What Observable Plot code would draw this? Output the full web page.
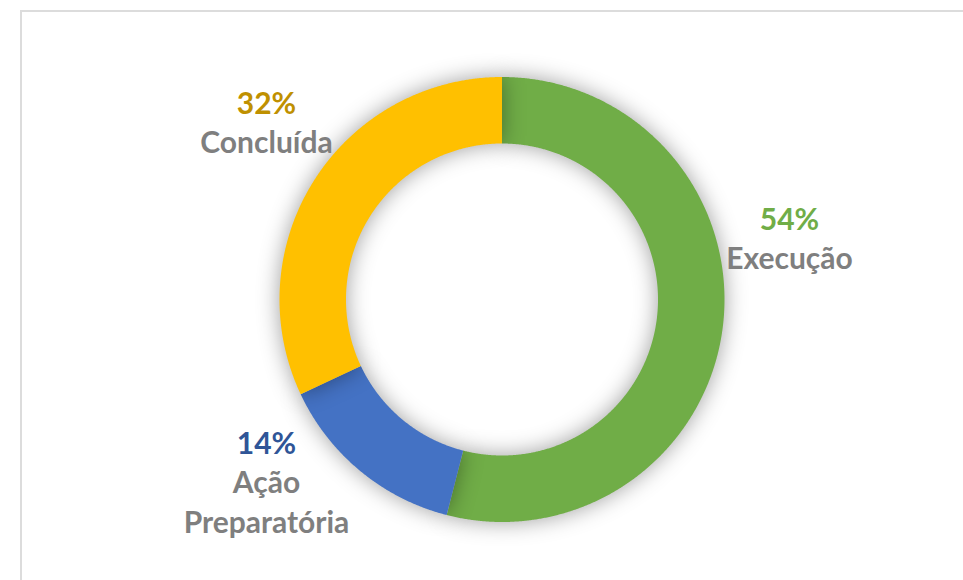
<!DOCTYPE html>
<html>
<head>
<meta charset="utf-8">
<script src="https://cdn.jsdelivr.net/npm/d3@7"></script>
<script src="https://cdn.jsdelivr.net/npm/@observablehq/plot@0.6"></script>
<style>
  html, body { margin: 0; padding: 0; background: #fff; overflow: hidden; }
  #wrap { position: relative; width: 963px; height: 580px; overflow: hidden; }
  #frame { position: absolute; left: 20px; top: 10px; width: 2000px; height: 2000px;
           border-left: 2px solid #dcdcdc; border-top: 2px solid #dcdcdc; pointer-events: none; }
  svg { display: block; }
</style>
</head>
<body>
<div id="wrap"><div id="frame"></div><div id="chart"></div></div>
<script>
// ---- data ----
const categories = ["Execução", "Ação Preparatória", "Concluída"];
const values = [54, 14, 32];
const sliceColors = ["#70AD47", "#4472C4", "#FFC000"];
const percentColors = ["#70AD47", "#2F5597", "#BF9000"];
const labelLines = [["Execução"], ["Ação", "Preparatória"], ["Concluída"]];

// ---- layout (pixel-unit data space, origin at donut centre, y up) ----
const W = 963, H = 580;
const cx = 501.5, cy = 299;
const rOuter = 222.5, rInner = 156;
const labelAnchor = [[789, 229], [266, 453], [266, 113]]; // screen px of first-line baseline
const lineStep = 39.5;

const pie = d3.pie().sort(null).value(d => d)(values);
const ringPts = [];
pie.forEach((p, i) => {
  const n = Math.max(8, Math.ceil((p.endAngle - p.startAngle) / 0.005));
  const pts = [];
  for (let k = 0; k <= n; k++) {
    const a = p.startAngle + (p.endAngle - p.startAngle) * k / n;
    pts.push({cat: categories[i], x: rOuter * Math.sin(a), y: rOuter * Math.cos(a)});
  }
  for (let k = n; k >= 0; k--) {
    const a = p.startAngle + (p.endAngle - p.startAngle) * k / n;
    pts.push({cat: categories[i], x: rInner * Math.sin(a), y: rInner * Math.cos(a)});
  }
  ringPts.push(pts);
});

const pctText = categories.map((c, i) => ({
  text: values[i] + "%", color: percentColors[i],
  x: labelAnchor[i][0] - cx, y: cy - labelAnchor[i][1]
}));
const nameText = [];
categories.forEach((c, i) => {
  labelLines[i].forEach((t, j) => nameText.push({
    text: t, x: labelAnchor[i][0] - cx, y: cy - (labelAnchor[i][1] + lineStep * (j + 1))
  }));
});

const font = "Lato, 'Open Sans', sans-serif";
const plot = Plot.plot({
  width: W, height: H,
  margin: 0,
  x: {domain: [-cx, W - cx], axis: null},
  y: {domain: [cy - H, cy], axis: null},
  style: {fontFamily: font, background: "transparent"},
  marks: [
    ...ringPts.map((pts, i) => Plot.line(pts, {
      x: "x", y: "y", fill: sliceColors[i], stroke: "none", curve: "linear"
    })),
    Plot.text(pctText, {
      x: "x", y: "y", text: "text", fill: d => d.color, fontSize: 30, fontWeight: "bold",
      lineAnchor: "bottom", textAnchor: "middle"
    }),
    Plot.text(nameText, {
      x: "x", y: "y", text: "text", fill: "#7F7F7F", fontSize: 30, fontWeight: "bold",
      lineAnchor: "bottom", textAnchor: "middle"
    })
  ]
});
// soft shadow around the ring
d3.select(plot).selectAll("g[aria-label='line']")
  .style("filter", "drop-shadow(0px 0px 11px rgba(0,0,0,0.38))");
plot.style.position = "absolute";
plot.style.left = "0px";
plot.style.top = "0px";
document.getElementById("chart").appendChild(plot);
</script>
</body>
</html>
